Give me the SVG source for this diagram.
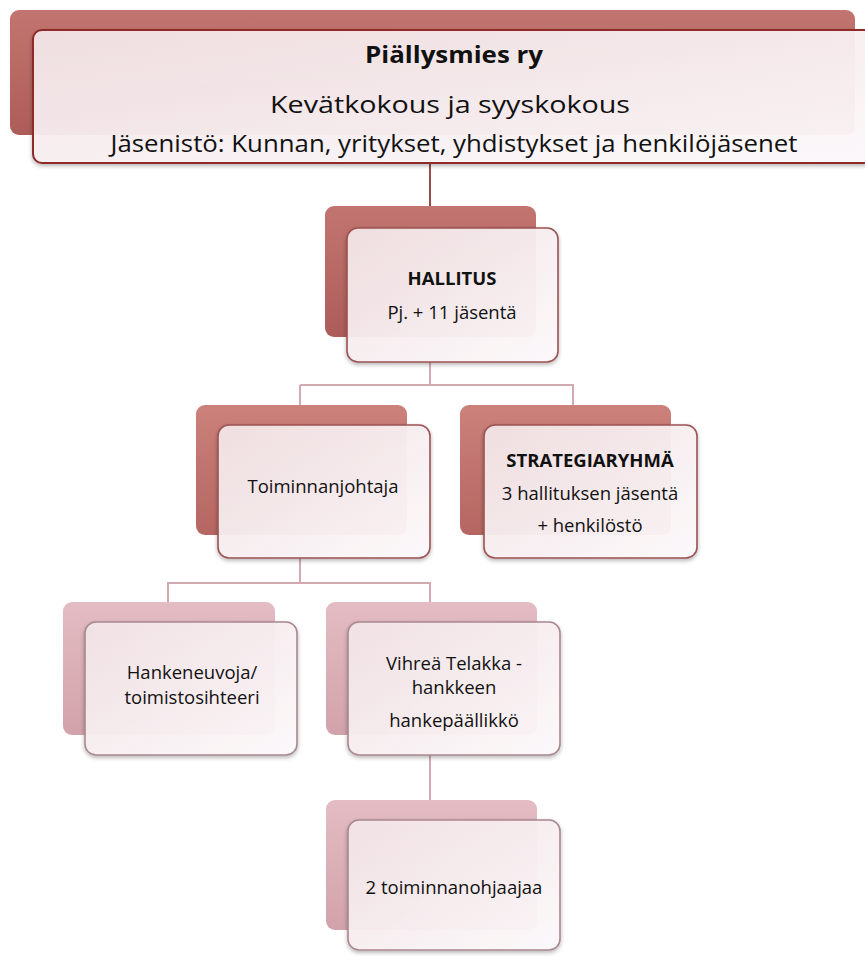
<svg xmlns="http://www.w3.org/2000/svg" width="865" height="956" viewBox="0 0 865 956">
<defs>
<linearGradient id="gDark" x1="0" y1="0" x2="0" y2="1">
<stop offset="0" stop-color="#c27570"/><stop offset="1" stop-color="#ad5d59"/>
</linearGradient>
<linearGradient id="gMid" x1="0" y1="0" x2="0" y2="1">
<stop offset="0" stop-color="#cc817b"/><stop offset="1" stop-color="#b56662"/>
</linearGradient>
<linearGradient id="gLight" x1="0" y1="0" x2="0" y2="1">
<stop offset="0" stop-color="#e4bcc3"/><stop offset="1" stop-color="#d2a2aa"/>
</linearGradient>
<linearGradient id="gFront" x1="0" y1="0" x2="1" y2="1">
<stop offset="0" stop-color="#f4e6e8" stop-opacity="0.93"/><stop offset="1" stop-color="#fdf9fb" stop-opacity="0.96"/>
</linearGradient>
<filter id="sh" x="-5%" y="-5%" width="110%" height="115%">
<feGaussianBlur in="SourceAlpha" stdDeviation="2"/><feOffset dx="0" dy="2"/>
<feComponentTransfer><feFuncA type="linear" slope="0.3"/></feComponentTransfer>
<feMerge><feMergeNode/><feMergeNode in="SourceGraphic"/></feMerge>
</filter>
</defs>
<style>
text{font-family:"Open Sans","Noto Sans","Liberation Sans",sans-serif;fill:#111;text-anchor:middle}
.b{font-weight:bold}
.front{fill:url(#gFront);stroke-width:1.6;filter:url(#sh)}
.f1{stroke:#8e2a2a;stroke-width:2}
.f2{stroke:#9c5252}
.f3{stroke:#a98890}
.c1{fill:none;stroke:#9a4c4c;stroke-width:2}
.c2{fill:none;stroke:#d4aab2;stroke-width:2}
.n{font-size:18.5px}
.s{font-size:17.5px}
</style>
<rect width="865" height="956" fill="#ffffff"/>
<g id="connectors">
<path class="c1" d="M430 163V206"/>
<path class="c2" d="M430 362V385H300M430 385H573V405M300 385V405"/>
<path class="c2" d="M300 558V583H168V602M300 583H430V602"/>
<path class="c2" d="M430 755V800"/>
</g>
<g id="node-piallysmies">
<rect x="10" y="10" width="845" height="125" rx="9" fill="url(#gDark)"/>
<rect class="front f1" x="33" y="30" width="840" height="133" rx="9"/>
<text class="b" x="454" y="63" font-size="24" textLength="178" lengthAdjust="spacingAndGlyphs">Piällysmies ry</text>
<text x="450" y="113" font-size="23" textLength="360" lengthAdjust="spacingAndGlyphs">Kevätkokous ja syyskokous</text>
<text x="454" y="152" font-size="23" textLength="687" lengthAdjust="spacingAndGlyphs">Jäsenistö: Kunnan, yritykset, yhdistykset ja henkilöjäsenet</text>
</g>
<g id="node-hallitus">
<rect x="325" y="206" width="211" height="131" rx="9" fill="url(#gDark)"/>
<rect class="front f2" x="347" y="228" width="211" height="134" rx="11"/>
<text class="b n" x="452" y="285">HALLITUS</text>
<text class="n" x="452" y="319">Pj. + 11 jäsentä</text>
</g>
<g id="node-toiminnanjohtaja">
<rect x="196" y="405" width="211" height="130" rx="9" fill="url(#gMid)"/>
<rect class="front f2" x="218" y="425" width="212" height="133" rx="11"/>
<text class="n" x="323" y="493">Toiminnanjohtaja</text>
</g>
<g id="node-strategiaryhma">
<rect x="460" y="405" width="211" height="130" rx="9" fill="url(#gMid)"/>
<rect class="front f2" x="484" y="425" width="213" height="133" rx="11"/>
<text class="b n" x="590" y="467">STRATEGIARYHMÄ</text>
<text class="n" x="590" y="500">3 hallituksen jäsentä</text>
<text class="n" x="590" y="532">+ henkilöstö</text>
</g>
<g id="node-hankeneuvoja">
<rect x="63" y="602" width="212" height="133" rx="9" fill="url(#gLight)"/>
<rect class="front f3" x="85" y="622" width="212" height="133" rx="11"/>
<text class="n" x="192" y="679">Hankeneuvoja/</text>
<text class="n" x="192" y="704">toimistosihteeri</text>
</g>
<g id="node-vihrea">
<rect x="326" y="602" width="211" height="133" rx="9" fill="url(#gLight)"/>
<rect class="front f3" x="348" y="622" width="212" height="133" rx="11"/>
<text class="n" x="454" y="670">Vihreä Telakka -</text>
<text class="n" x="454" y="694">hankkeen</text>
<text class="n" x="454" y="727">hankepäällikkö</text>
</g>
<g id="node-toiminnanohjaajat">
<rect x="326" y="800" width="211" height="130" rx="9" fill="url(#gLight)"/>
<rect class="front f3" x="348" y="820" width="212" height="130" rx="11"/>
<text class="n" x="454" y="894">2 toiminnanohjaajaa</text>
</g>
</svg>
